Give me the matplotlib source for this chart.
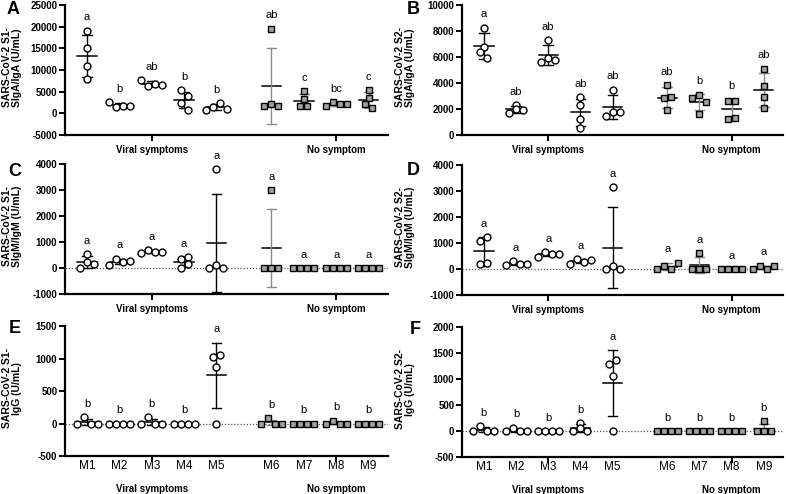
"""Six-panel scatter dot plot: antibody levels per group, mean +/- SD."""

import matplotlib.pyplot as plt
import numpy as np
from matplotlib import transforms

plt.rcParams["font.family"] = ["Liberation Sans", "DejaVu Sans"]

GROUPS = ["M1", "M2", "M3", "M4", "M5", "M6", "M7", "M8", "M9"]
VIRAL_COUNT = 5
GROUP_LABELS = ["Viral symptoms", "No symptom"]

s1_iga = [
    [19100, 15000, 11000, 8000],
    [2600, 1500, 1800, 1600],
    [7600, 6400, 6800, 6600],
    [5300, 3900, 2400, 800],
    [850, 1400, 2400, 1000],
    [19500, 1600, 2200, 1800],
    [5100, 3300, 1600, 1600],
    [1600, 2600, 2100, 2100],
    [5400, 3500, 2200, 1200],
]
s1_iga_letters = ["a", "b", "ab", "b", "b", "ab", "c", "bc", "c"]

s2_iga = [
    [8250, 6800, 6400, 5900],
    [2300, 1700, 2000, 1900],
    [7300, 5650, 5950, 5800],
    [2900, 2300, 1200, 560],
    [3500, 1450, 1800, 1750],
    [3850, 2850, 2900, 1900],
    [2850, 3050, 2550, 1650],
    [2650, 2650, 1250, 1300],
    [5100, 3800, 2900, 2050],
]
s2_iga_letters = ["a", "ab", "ab", "ab", "ab", "ab", "b", "b", "ab"]

s1_igm = [
    [0, 220, 540, 150],
    [130, 350, 220, 250],
    [560, 680, 620, 600],
    [330, 0, 420, 150],
    [0, 100, 0, 3800],
    [0, 0, 0, 3000],
    [0, 0, 0, 0],
    [0, 0, 0, 0],
    [0, 0, 0, 0],
]
s1_igm_letters = ["a"] * 9

s2_igm = [
    [1080, 180, 1220, 220],
    [170, 310, 200, 190],
    [480, 650, 570, 570],
    [210, 370, 270, 340],
    [0, 120, 0, 3150],
    [0, 130, 0, 250],
    [600, 0, 0, 0],
    [0, 0, 0, 0],
    [0, 120, 0, 110],
]
s2_igm_letters = ["a"] * 9

s1_igg = [
    [0, 100, 0, 0],
    [0, 0, 0, 0],
    [0, 100, 0, 0],
    [0, 0, 0, 0],
    [1030, 1060, 870, 0],
    [0, 80, 0, 0],
    [0, 0, 0, 0],
    [0, 40, 0, 0],
    [0, 0, 0, 0],
]
s1_igg_letters = ["b", "b", "b", "b", "a", "b", "b", "b", "b"]

s2_igg = [
    [0, 90, 0, 0],
    [0, 60, 0, 0],
    [0, 0, 0, 0],
    [0, 155, 65, 0],
    [1290, 1360, 1060, 0],
    [0, 0, 0, 0],
    [0, 0, 0, 0],
    [0, 0, 0, 0],
    [0, 190, 0, 0],
]
s2_igg_letters = ["b", "b", "b", "b", "a", "b", "b", "b", "b"]

# (panel, values, letters, ylabel, ylim, ystep, box in px: left, top, right, bottom)
PANELS = [
    ("A", s1_iga, s1_iga_letters, "SARS-CoV-2 S1-\nSIgA/IgA (U/mL)", (-5000, 25000), 5000, (65, 5, 388, 135)),
    ("B", s2_iga, s2_iga_letters, "SARS-CoV-2 S2-\nSIgA/IgA (U/mL)", (0, 10000), 2000, (462, 5, 783, 135)),
    ("C", s1_igm, s1_igm_letters, "SARS-CoV-2 S1-\nSIgM/IgM (U/mL)", (-1000, 4000), 1000, (65, 164, 388, 294)),
    ("D", s2_igm, s2_igm_letters, "SARS-CoV-2 S2-\nSIgM/IgM (U/mL)", (-1000, 4000), 1000, (462, 165, 783, 295)),
    ("E", s1_igg, s1_igg_letters, "SARS-CoV-2 S1-\nIgG (U/mL)", (-500, 1500), 500, (65, 326, 388, 456)),
    ("F", s2_igg, s2_igg_letters, "SARS-CoV-2 S2-\nIgG (U/mL)", (-500, 2000), 500, (462, 327, 783, 457)),
]

W, H = 786, 494
DPI = 100
MARKER_PX = 7.0
GRAY_FILL = "#a3a3a3"
GRAY_BAR = "#8a8a8a"

XPOS = np.r_[np.arange(VIRAL_COUNT), np.arange(len(GROUPS) - VIRAL_COUNT) + 5.7]
GROUP_TICKS = [XPOS[2], XPOS[7]]


def _offsets(ax, x, values):
    """Points closer than one marker share a row; each row fans out sideways."""
    trans = ax.transData
    ypx = trans.transform(np.column_stack([np.full(len(values), x), values]))[:, 1]
    unit_px = trans.transform([[1, 0]])[0, 0] - trans.transform([[0, 0]])[0, 0]
    step = MARKER_PX / unit_px
    order = np.argsort(ypx, kind="stable")
    rows = [[order[0]]]
    for i in order[1:]:
        if ypx[i] - ypx[rows[-1][0]] < MARKER_PX:
            rows[-1].append(i)
        else:
            rows.append([i])
    offsets = np.zeros(len(values))
    for row in rows:
        row = sorted(row)
        for k, i in enumerate(row):
            offsets[i] = (k - (len(row) - 1) / 2) * step
    return offsets


def draw_panel(fig, tag, values, letters, ylabel, ylim, ystep, box):
    left, top, right, bottom = box
    ax = fig.add_axes([left / W, 1 - bottom / H, (right - left) / W, (bottom - top) / H])
    ax.set_xlim(-0.68, 9.3)
    ax.set_ylim(*ylim)
    for side in ("top", "right"):
        ax.spines[side].set_visible(False)
    for side in ("left", "bottom"):
        ax.spines[side].set_linewidth(1.6)

    yticks = np.arange(ylim[0], ylim[1] + 1, ystep)
    ax.set_yticks(yticks, [str(int(t)) for t in yticks], fontweight="bold", fontsize=7)
    ax.tick_params(axis="y", direction="out", length=4, width=1.4, pad=1.5)

    if ylim[0] < 0 and tag not in ("A",):
        ax.axhline(0, color="#555555", lw=0.9, ls=(0, (1, 1.5)), zorder=0.5)

    for i, (x, vals, letter) in enumerate(zip(XPOS, values, letters)):
        vals = np.asarray(vals, dtype=float)
        viral = i < VIRAL_COUNT
        mean = vals.mean()
        sd = vals.std(ddof=1)
        bar = "black" if viral else GRAY_BAR
        ax.plot([x - 0.3, x + 0.3], [mean, mean], color="black", lw=1.1, zorder=1)
        ax.plot([x, x], [mean - sd, mean + sd], color=bar, lw=1.0, zorder=1)
        for end in (mean - sd, mean + sd):
            ax.plot([x - 0.15, x + 0.15], [end, end], color=bar, lw=1.0, zorder=1)

        xs = x + _offsets(ax, x, vals)
        if viral:
            ax.plot(xs, vals, "o", ms=5, mfc="white", mec="black", mew=1.0, zorder=3, clip_on=False)
        else:
            ax.plot(xs, vals, "s", ms=5, mfc=GRAY_FILL, mec="black", mew=1.0, zorder=3, clip_on=False)

        peak = max(vals.max(), mean + sd)
        ax.annotate(letter, xy=(x, peak), xytext=(0, 7.5), textcoords="offset points",
                    ha="center", va="baseline", fontsize=8, annotation_clip=False)

    with_names = tag in ("E", "F")
    ax.set_xticks(GROUP_TICKS, GROUP_LABELS, fontweight="bold", fontsize=7)
    ax.tick_params(axis="x", direction="out", length=4, width=1.4, pad=16.5 if with_names else 3.5)
    if with_names:
        blend = transforms.blended_transform_factory(ax.transData, ax.transAxes)
        for x, name in zip(XPOS, GROUPS):
            ax.annotate(name, xy=(x, 0), xycoords=blend, xytext=(0, -7.5),
                        textcoords="offset points", ha="center", va="center", fontsize=8.5)

    ax.set_ylabel(ylabel, fontweight="bold", fontsize=7.5, va="center", ma="center", linespacing=1.1)
    ax.yaxis.set_label_coords((12 if left < 200 else 405) / (right - left) - left / (right - left), 0.52)
    return ax


fig = plt.figure(figsize=(W / DPI, H / DPI), dpi=DPI)
for tag, values, letters, ylabel, ylim, ystep, box in PANELS:
    draw_panel(fig, tag, values, letters, ylabel, ylim, ystep, box)

LETTER_POS = {"A": (13, 9), "B": (413, 10), "C": (15, 172), "D": (413, 170), "E": (15, 328), "F": (415, 330)}
for tag, (px, py) in LETTER_POS.items():
    fig.text(px / W, 1 - py / H, tag, fontsize=13, fontweight="bold", ha="center", va="center")

fig.savefig("out.png", dpi=DPI)
